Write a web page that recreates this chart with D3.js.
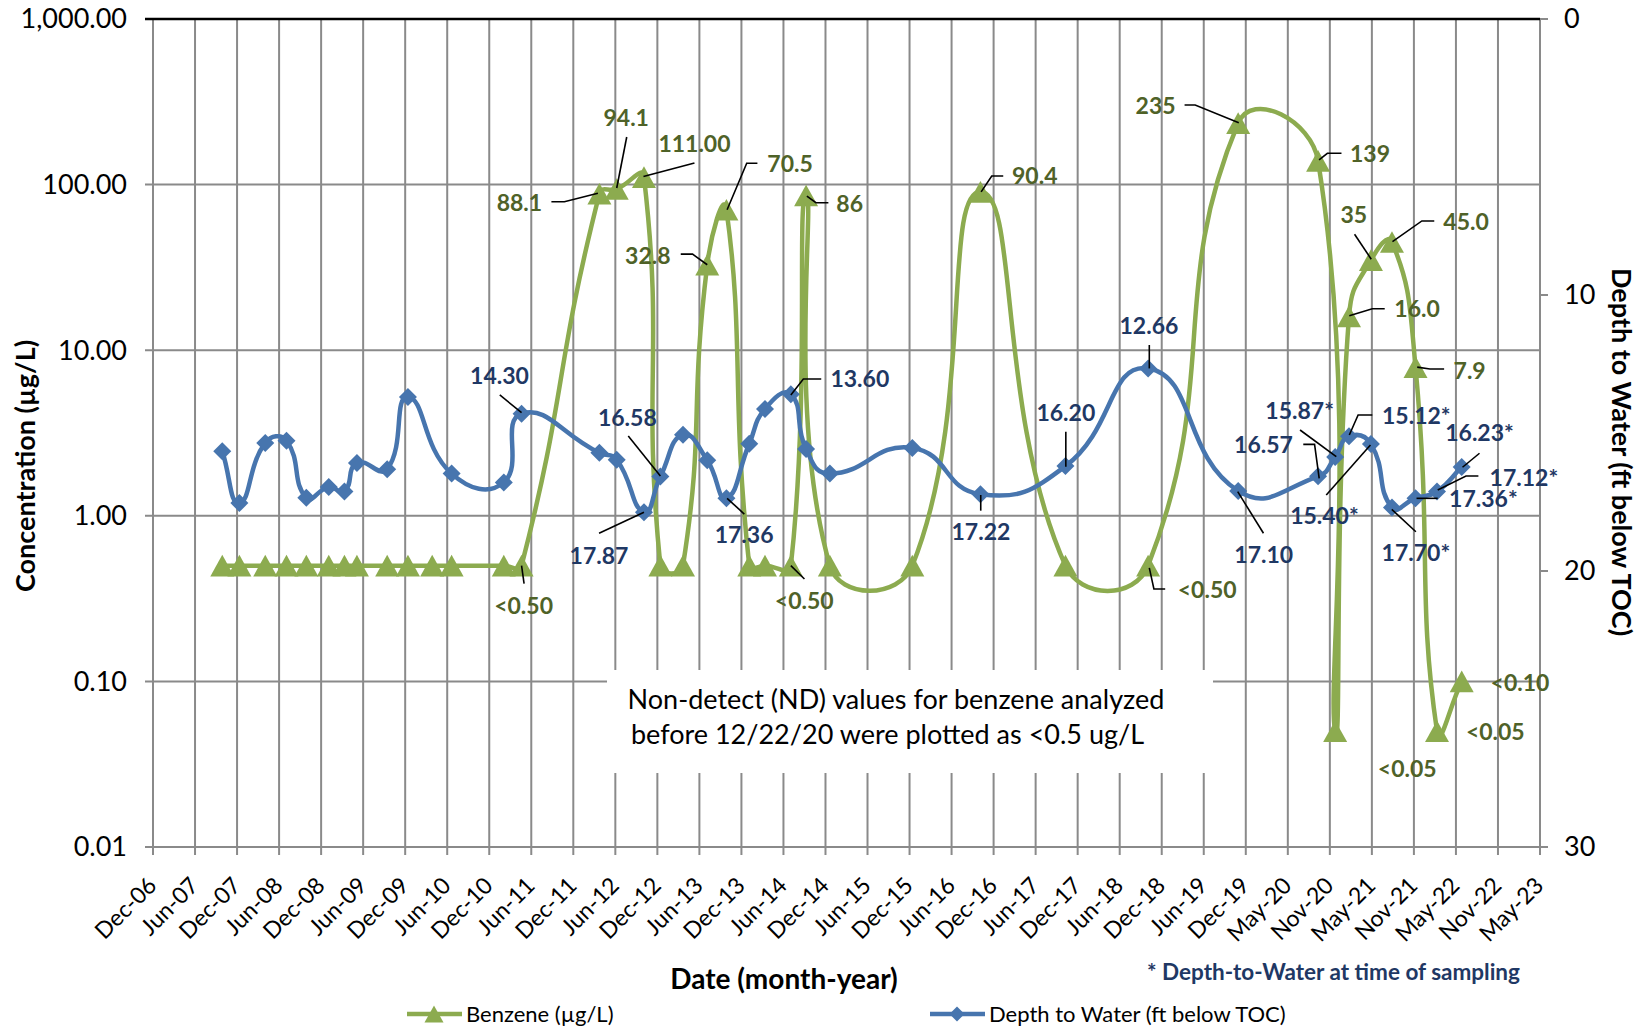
<!DOCTYPE html>
<html>
<head>
<meta charset="utf-8">
<script src="https://cdn.jsdelivr.net/npm/d3@7"></script>
<style>
  html, body { margin: 0; padding: 0; background: #ffffff; }
  svg { display: block; font-family: Lato, "Open Sans", sans-serif; }
</style>
</head>
<body>
<svg id="chart" width="1645" height="1029"></svg>
<script>
// ---- Data -------------------------------------------------------------
// Sampling dates shared by both series
const sampleDates = [
  "2007-10-13", "2007-12-26", "2008-04-16", "2008-07-17", "2008-10-11",
  "2009-01-16", "2009-03-25", "2009-05-18", "2009-09-26", "2009-12-25",
  "2010-04-09", "2010-07-02", "2011-02-13", "2011-05-01", "2012-04-02",
  "2012-06-16", "2012-10-12", "2012-12-22", "2013-03-30", "2013-07-13",
  "2013-10-04", "2014-01-11", "2014-03-20", "2014-07-10", "2014-09-14",
  "2014-12-26", "2015-12-18", "2016-10-08", "2017-10-11", "2018-10-04",
  "2019-10-29", "2020-10-09", "2020-12-22", "2021-02-20", "2021-05-26",
  "2021-08-25", "2021-12-05", "2022-03-08", "2022-06-23"
];

// Benzene concentration (µg/L); non-detects carried at their reporting limit
const benzene = [
  0.5, 0.5, 0.5, 0.5, 0.5, 0.5, 0.5, 0.5, 0.5, 0.5,
  0.5, 0.5, 0.5, 0.5, 88.1, 94.1, 111.0, 0.5, 0.5, 32.8,
  70.5, 0.5, 0.5, 0.5, 86, 0.5, 0.5, 90.4, 0.5, 0.5,
  235, 139, 0.05, 16.0, 35, 45.0, 7.9, 0.05, 0.10
];

// Depth to water (ft below TOC); null where no gauging was recorded
const depthToWater = [
  15.66, 17.54, 15.36, 15.28, 17.35, 16.96, 17.12, 16.09, 16.31, 13.70,
  null, 16.47, 16.79, 14.30, 15.72, 15.97, 17.87, 16.58, 15.06, 15.99,
  17.36, 15.39, 14.13, 13.60, 15.58, 16.47, 15.54, 17.22, 16.20, 12.66,
  17.10, 16.57, 15.87, 15.12, 15.40, 17.70, 17.36, 17.12, 16.23
];

// Date-axis tick labels (one every 182 days from the axis origin)
const xTickLabels = [
  "Dec-06", "Jun-07", "Dec-07", "Jun-08", "Dec-08", "Jun-09", "Dec-09", "Jun-10",
  "Dec-10", "Jun-11", "Dec-11", "Jun-12", "Dec-12", "Jun-13", "Dec-13", "Jun-14",
  "Dec-14", "Jun-15", "Dec-15", "Jun-16", "Dec-16", "Jun-17", "Dec-17", "Jun-18",
  "Dec-18", "Jun-19", "Dec-19", "May-20", "Nov-20", "May-21", "Nov-21", "May-22",
  "Nov-22", "May-23"
];
const concTicks = [0.01, 0.1, 1, 10, 100, 1000];
const depthTicks = [0, 10, 20, 30];

// Data-label text, keyed by sample index
const benzeneLabelText = {
  13: "<0.50", 14: "88.1", 15: "94.1", 16: "111.00", 19: "32.8", 20: "70.5",
  23: "<0.50", 24: "86", 27: "90.4", 29: "<0.50", 30: "235", 31: "139",
  32: "<0.05", 33: "16.0", 34: "35", 35: "45.0", 36: "7.9", 37: "<0.05", 38: "<0.10"
};
const depthLabelText = {
  13: "14.30", 16: "17.87", 17: "16.58", 20: "17.36", 23: "13.60", 27: "17.22",
  28: "16.20", 29: "12.66", 30: "17.10", 31: "16.57", 32: "15.87*", 33: "15.12*",
  34: "15.40*", 35: "17.70*", 36: "17.36*", 37: "17.12*", 38: "16.23*"
};

// ---- Label placement (pixel offsets from the marker, leader polylines) ---
const benzeneLabelLayout = {
  13: { at: [2, 40],       leader: [[0, 0], [2.5, 18]] },
  14: { at: [-80, 9.5],    leader: [[-1.5, -0.5], [-35, 8], [-48, 8]] },
  15: { at: [9.5, -70.7],  leader: [[0, -1], [10, -52]] },
  16: { at: [50.5, -33],   leader: [[-0.5, -0.5], [50.5, -14]] },
  19: { at: [-59.4, -9],   leader: [[0, 0], [-14.7, -10.6], [-26.5, -10.6]] },
  20: { at: [63.7, -45.6], leader: [[0.7, 0], [20.3, -46.5], [31, -46.5]] },
  23: { at: [13.4, 34.8],  leader: [[0, 0], [13.6, 13.3]] },
  24: { at: [43.6, 8.8],   leader: [[0.8, 0.6], [9.8, 7.3], [22.3, 7.3]] },
  27: { at: [54.3, -16.1], leader: [[0.7, 0], [11.3, -15.9], [22.8, -15.9]] },
  29: { at: [59.1, 24],    leader: [[1.2, 2.3], [5.8, 23.3], [17.1, 23.3]] },
  30: { at: [-82.6, -17.4], leader: [[0.6, -0.5], [-43, -18.2], [-53.6, -18.2]] },
  31: { at: [51.9, -6.7],  leader: [[1, -1], [9.3, -7.6], [23.4, -7.6]] },
  32: { at: [72.1, 37.3] },
  33: { at: [68.1, -7.4],  leader: [[0.3, -0.6], [23.3, -7.6], [35.7, -7.6]] },
  34: { at: [-17.1, -45.2], leader: [[0.3, -0.9], [-16.4, -25.9]] },
  35: { at: [74.1, -20.4], leader: [[0.5, -0.4], [29.9, -21.1], [42.3, -21.1]] },
  36: { at: [54.1, 3.4],   leader: [[1.7, 0], [14.4, 1.9], [28.6, 1.9]] },
  37: { at: [58.3, 0.6] },
  38: { at: [58.3, 1.4] }
};
const depthLabelLayout = {
  13: { at: [-22.1, -37.9], leader: [[-21.8, -18.7], [0, -1]] },
  16: { at: [-45, 43.6],   leader: [[0, 0], [-44.9, 21.1]] },
  17: { at: [-33, -59.1],  leader: [[0, -0.6], [-32.1, -40.6]] },
  20: { at: [17.7, 37.2],  leader: [[0.7, 0.2], [17.9, 15.9]] },
  23: { at: [69, -15.2],   leader: [[0, 0.6], [12.5, -15.4], [30.4, -15.4]] },
  27: { at: [0.5, 37.4],   leader: [[0.3, 0.7], [0.3, 16.4]] },
  28: { at: [0.4, -53.6],  leader: [[0.4, -34.4], [0.4, 0.6]] },
  29: { at: [0.8, -42.6],  leader: [[1.2, -23.4], [1.2, 0]] },
  30: { at: [25.6, 64.3],  leader: [[-0.5, 0.7], [25.3, 42.3]] },
  31: { at: [-54.6, -31.3], leader: [[1.1, 2], [-3.5, -32], [-14.8, -32]] },
  32: { at: [-35.5, -46.2], leader: [[-35.1, -27], [1.1, -0.3]] },
  33: { at: [67.3, -20.5], leader: [[23.3, -21.3], [9.1, -21.3], [0.3, -1.3]] },
  34: { at: [-46.5, 71.8], leader: [[-0.5, 1], [-44.7, 51]] },
  35: { at: [23.9, 45.3],  leader: [[-0.2, 1.8], [23.9, 24.2]] },
  36: { at: [67.9, 1.1],   leader: [[1, 0.2], [22.2, 0.2]] },
  37: { at: [86.9, -14],   leader: [[0.7, -1.5], [29, -15.5], [41.4, -15.5]] },
  38: { at: [17.8, -34],   leader: [[0.8, 0.3], [17.8, -13.7]] }
};

// ---- Layout & styling --------------------------------------------------
const plot = { left: 153, right: 1540, top: 19, bottom: 847 };
const GREEN = "#8cab4f", BLUE = "#4775ae";
const GREEN_TEXT = "#4f6228", BLUE_TEXT = "#1f3864";
const GRID = "#8a8a8a";

const svg = d3.select("#chart");
const DAY = 864e5;
const axisOrigin = Date.UTC(2006, 11, 17);
const tickDates = xTickLabels.map((_, k) => new Date(axisOrigin + k * 182 * DAY));
const dates = sampleDates.map(s => new Date(s + "T00:00:00Z"));

const x = d3.scaleUtc()
  .domain([tickDates[0], tickDates[tickDates.length - 1]])
  .range([plot.left, plot.right]);
const yConc = d3.scaleLog().domain([0.01, 1000]).range([plot.bottom, plot.top]);
const yDepth = d3.scaleLinear().domain([0, 30]).range([plot.top, plot.bottom]);

// Smoothed line: cubic Bézier segments whose tangents follow the neighbouring
// points, weighted by the relative length of each segment.
function smoothCurve(context) {
  let pts = [];
  return {
    areaStart() {}, areaEnd() {},
    lineStart() { pts = []; },
    point(px, py) { pts.push([+px, +py]); },
    lineEnd() {
      const n = pts.length;
      if (!n) return;
      context.moveTo(pts[0][0], pts[0][1]);
      const dist = (a, b) => Math.hypot(b[0] - a[0], b[1] - a[1]);
      for (let i = 0; i < n - 1; i++) {
        const p0 = pts[Math.max(i - 1, 0)], p1 = pts[i], p2 = pts[i + 1], p3 = pts[Math.min(i + 2, n - 1)];
        const d01 = dist(p0, p1), d12 = dist(p1, p2), d23 = dist(p2, p3);
        const f1 = (d01 + d12) > 0 ? d12 / (2 * (d01 + d12)) : 0;
        const f2 = (d12 + d23) > 0 ? d12 / (2 * (d12 + d23)) : 0;
        context.bezierCurveTo(
          p1[0] + (p2[0] - p0[0]) * f1, p1[1] + (p2[1] - p0[1]) * f1,
          p2[0] - (p3[0] - p1[0]) * f2, p2[1] - (p3[1] - p1[1]) * f2,
          p2[0], p2[1]);
      }
    }
  };
}

// Marker shapes
const triangleMark = { draw(ctx, s) { const h = s * 0.9; ctx.moveTo(0, -h / 2); ctx.lineTo(s / 2, h / 2); ctx.lineTo(-s / 2, h / 2); ctx.closePath(); } };
const diamondMark = { draw(ctx, s) { ctx.moveTo(0, -s / 2); ctx.lineTo(s / 2, 0); ctx.lineTo(0, s / 2); ctx.lineTo(-s / 2, 0); ctx.closePath(); } };

// ---- Grid ----------------------------------------------------------------
const grid = svg.append("g");
grid.selectAll("line.v").data(tickDates).join("line")
  .attr("x1", d => x(d)).attr("x2", d => x(d))
  .attr("y1", plot.top).attr("y2", plot.bottom + 8)
  .attr("stroke", GRID).attr("stroke-width", 2);
grid.selectAll("line.h").data(concTicks).join("line")
  .attr("x1", plot.left - 8).attr("x2", plot.right)
  .attr("y1", d => yConc(d)).attr("y2", d => yConc(d))
  .attr("stroke", d => d === 1000 ? "#000" : GRID)
  .attr("stroke-width", d => d === 1000 ? 2.5 : 2);
grid.selectAll("line.r").data(depthTicks).join("line")
  .attr("x1", plot.right).attr("x2", plot.right + 8)
  .attr("y1", d => yDepth(d)).attr("y2", d => yDepth(d))
  .attr("stroke", GRID).attr("stroke-width", 2);

// Note box over the lower grid
svg.append("rect")
  .attr("x", 607).attr("y", 670).attr("width", 606).attr("height", 103)
  .attr("fill", "#fff");
const note = svg.append("g").attr("font-size", 27).attr("fill", "#000").attr("text-anchor", "middle");
note.append("text").attr("x", 896).attr("y", 709).text("Non-detect (ND) values for benzene analyzed");
note.append("text").attr("x", 887.5).attr("y", 744).text("before 12/22/20 were plotted as <0.5 ug/L");

// ---- Series --------------------------------------------------------------
const benzenePts = dates.map((d, i) => ({ i, px: x(d), py: yConc(benzene[i]) }));
const depthPts = dates.map((d, i) => ({ i, v: depthToWater[i] }))
  .filter(p => p.v != null)
  .map(p => ({ i: p.i, px: x(dates[p.i]), py: yDepth(p.v) }));

const line = d3.line().x(p => p.px).y(p => p.py).curve(smoothCurve);

svg.append("path").attr("d", line(benzenePts))
  .attr("fill", "none").attr("stroke", GREEN).attr("stroke-width", 4.5)
  .attr("stroke-linejoin", "round");
svg.append("g").selectAll("path").data(benzenePts).join("path")
  .attr("transform", p => `translate(${p.px},${p.py})`)
  .attr("d", d3.symbol().type(triangleMark).size(24))
  .attr("fill", GREEN);

svg.append("path").attr("d", line(depthPts))
  .attr("fill", "none").attr("stroke", BLUE).attr("stroke-width", 4.5)
  .attr("stroke-linejoin", "round");
svg.append("g").selectAll("path").data(depthPts).join("path")
  .attr("transform", p => `translate(${p.px},${p.py})`)
  .attr("d", d3.symbol().type(diamondMark).size(18))
  .attr("fill", BLUE);

// ---- Data labels -----------------------------------------------------------
function drawLabels(texts, layout, pointAt, color) {
  const g = svg.append("g");
  Object.keys(texts).forEach(k => {
    const i = +k, p = pointAt(i), lay = layout[i];
    if (lay.leader) {
      g.append("polyline")
        .attr("points", lay.leader.map(o => [p.px + o[0], p.py + o[1]].join(",")).join(" "))
        .attr("fill", "none").attr("stroke", "#000").attr("stroke-width", 1.6);
    }
    g.append("text")
      .attr("x", p.px + lay.at[0]).attr("y", p.py + lay.at[1] + 0.35 * 23)
      .attr("text-anchor", "middle").attr("font-size", 23).attr("font-weight", 700)
      .attr("fill", color).text(texts[k]);
  });
}
drawLabels(benzeneLabelText, benzeneLabelLayout, i => benzenePts[i], GREEN_TEXT);
drawLabels(depthLabelText, depthLabelLayout,
  i => ({ px: x(dates[i]), py: yDepth(depthToWater[i]) }), BLUE_TEXT);

// ---- Axes text -----------------------------------------------------------
const fmtConc = d3.format(",.2f");
svg.append("g").selectAll("text").data(concTicks).join("text")
  .attr("x", 127).attr("y", d => yConc(d) + 0.35 * 27)
  .attr("text-anchor", "end").attr("font-size", 27).attr("fill", "#000")
  .text(d => fmtConc(d));
svg.append("g").selectAll("text").data(depthTicks).join("text")
  .attr("x", 1564).attr("y", d => yDepth(d) + 0.35 * 27)
  .attr("font-size", 27).attr("fill", "#000")
  .text(d => d);
svg.append("g").selectAll("text").data(tickDates).join("text")
  .attr("transform", (d) => `translate(${x(d) + 5},887) rotate(-45)`)
  .attr("text-anchor", "end").attr("font-size", 23).attr("fill", "#000")
  .text((d, k) => xTickLabels[k]);

svg.append("text")
  .attr("transform", `translate(${26 + 0.35 * 27},466) rotate(-90)`)
  .attr("text-anchor", "middle").attr("font-size", 27).attr("font-weight", 700)
  .text("Concentration (µg/L)");
svg.append("text")
  .attr("transform", `translate(${1621 - 0.35 * 27},452) rotate(90)`)
  .attr("text-anchor", "middle").attr("font-size", 27).attr("font-weight", 700)
  .text("Depth to Water (ft below TOC)");
svg.append("text")
  .attr("x", 784).attr("y", 989)
  .attr("text-anchor", "middle").attr("font-size", 28).attr("font-weight", 700)
  .text("Date (month-year)");
svg.append("text")
  .attr("x", 1147).attr("y", 980)
  .attr("font-size", 22.5).attr("font-weight", 700).attr("fill", BLUE_TEXT)
  .text("* Depth-to-Water at time of sampling");

// ---- Legend ----------------------------------------------------------------
const legend = [
  { name: "Benzene (µg/L)", color: GREEN, mark: triangleMark, size: 19, x0: 407 },
  { name: "Depth to Water (ft below TOC)", color: BLUE, mark: diamondMark, size: 15, x0: 930 }
];
const lg = svg.append("g");
legend.forEach(it => {
  lg.append("line").attr("x1", it.x0).attr("x2", it.x0 + 55)
    .attr("y1", 1014).attr("y2", 1014)
    .attr("stroke", it.color).attr("stroke-width", 4.5);
  lg.append("path").attr("transform", `translate(${it.x0 + 27},1014)`)
    .attr("d", d3.symbol().type(it.mark).size(it.size)).attr("fill", it.color);
  lg.append("text").attr("x", it.x0 + 59).attr("y", 1022)
    .attr("font-size", 22).attr("fill", "#000").text(it.name);
});
</script>
</body>
</html>
